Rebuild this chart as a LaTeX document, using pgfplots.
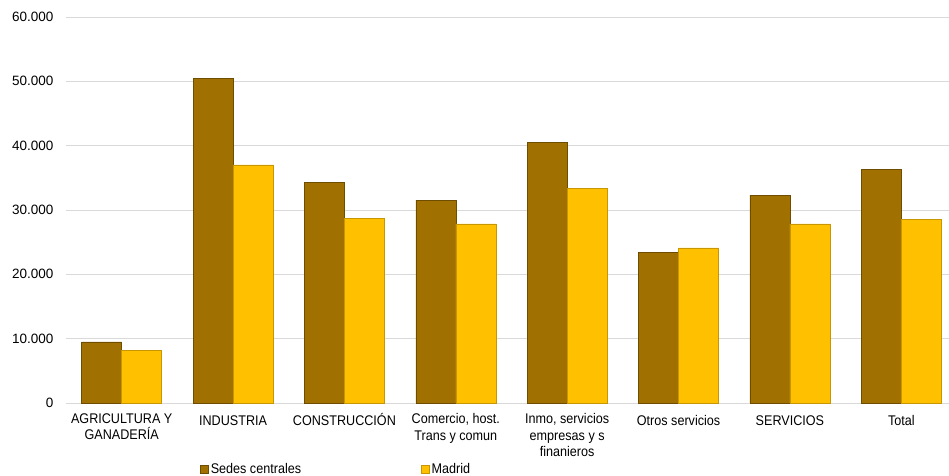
\documentclass[border=0pt]{standalone}
\usepackage{pgfplots}
\pgfplotsset{compat=1.18}
\usepackage{fontspec}
\setmainfont{Liberation Sans}[FakeStretch=0.9]
\newfontfamily\plainsans{Liberation Sans}
\definecolor{sedes}{RGB}{160,112,0}
\definecolor{sedesedge}{RGB}{110,76,0}
\definecolor{madrid}{RGB}{255,192,0}
\definecolor{madridedge}{RGB}{200,150,0}
\definecolor{gridc}{RGB}{217,217,217}
\begin{document}
\begin{tikzpicture}
\begin{axis}[
  at={(66pt,72pt)}, anchor=south west,
  width=891pt, height=386pt, scale only axis,
  ybar=0pt, bar width=40pt,
  xmin=-0.5, xmax=7.5, ymin=0, ymax=60000,
  xtick={0,...,7},
  xticklabels={{AGRICULTURA Y\\GANADERÍA},INDUSTRIA,CONSTRUCCIÓN,{Comercio, host.\\Trans y comun},{Inmo, servicios\\empresas y s\\finanieros},Otros servicios,SERVICIOS,Total},
  xticklabel style={align=center, font=\fontsize{14}{16.5}\selectfont, execute at begin node={\vphantom{ÓÍ}}, yshift=-7pt},
  ytick={0,10000,...,60000},
  yticklabel style={font=\plainsans\fontsize{13.5}{16}\selectfont, xshift=-9pt},
  /pgf/number format/assume math mode=true,
  /pgf/number format/.cd, 1000 sep={.}, /pgfplots/.cd,
  scaled y ticks=false,
  ymajorgrids, grid style={gridc, line width=1pt},
  axis x line*=bottom, axis y line*=left,
  x axis line style={gridc, line width=1pt, -},
  y axis line style={draw=none},
  major tick length=0pt,
  xtick style={draw=none}, ytick style={draw=none},
  legend columns=2,
  legend style={draw=none, fill=none, font=\fontsize{14}{16}\selectfont,
    at={(0.147,-0.146)}, anchor=north west,
    /tikz/every even column/.append style={column sep=118pt}},
  legend image code/.code={\draw[#1] (0pt,-4pt) rectangle (8pt,4pt);},
  clip=false,
]
\addplot[fill=sedes, draw=sedesedge, line width=0.6pt] coordinates {
 (0,9500) (1,50400) (2,34350) (3,31550) (4,40550) (5,23450) (6,32300) (7,36350)};
\addplot[fill=madrid, draw=madridedge, line width=0.6pt] coordinates {
 (0,8200) (1,37000) (2,28750) (3,27850) (4,33400) (5,24100) (6,27850) (7,28600)};
\legend{Sedes centrales, Madrid}
\end{axis}
\pgfresetboundingbox
\useasboundingbox (0,0) rectangle (949pt,475pt);
\end{tikzpicture}
\end{document}
